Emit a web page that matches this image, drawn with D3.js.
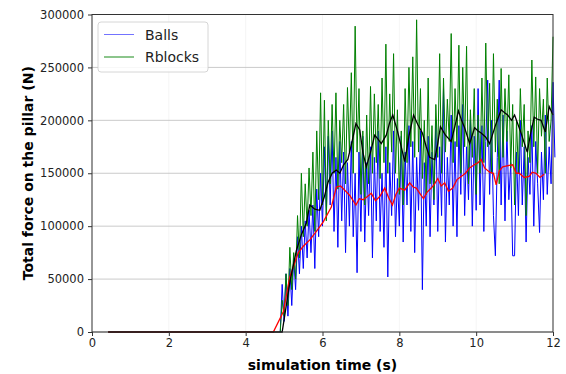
<!DOCTYPE html>
<html>
<head>
<meta charset="utf-8">
<script src="https://cdn.jsdelivr.net/npm/d3@7"></script>
<style>
  body { margin: 0; background: #fff; }
  text { font-family: "DejaVu Sans", sans-serif; }
</style>
</head>
<body>
<script>
// raw signals, sampled every 0.05 s starting at 4.9 s (values in kN)
var rawStart = 4.9, rawStep = 0.05;
var balls = [0, 45, 10, 55, 15, 60, 25, 70, 40, 90, 55, 100, 60, 105, 70, 115, 75, 120, 60, 135,
  90, 150, 100, 175, 110, 185, 120, 190, 95, 165, 80, 180, 105, 170, 75, 160, 100, 180, 90, 150,
  56, 170, 95, 185, 85, 160, 110, 175, 70, 165, 105, 190, 95, 150, 80, 175, 52, 160, 110, 190,
  90, 145, 100, 185, 85, 170, 120, 195, 95, 180, 75, 165, 115, 190, 40, 160, 100, 185, 90, 170,
  120, 200, 95, 175, 110, 230, 85, 165, 120, 205, 100, 180, 90, 195, 130, 215, 110, 175, 125, 200,
  100, 185, 115, 230, 120, 195, 95, 180, 238, 130, 200, 110, 72, 165, 238, 120, 205, 105, 190, 125,
  160, 72, 72, 170, 110, 200, 120, 175, 85, 165, 130, 195, 100, 180, 140, 94, 170, 125, 205, 130,
  175, 140, 236, 165];
var rblocks = [0, 30, 15, 55, 25, 80, 40, 75, 50, 110, 70, 150, 90, 140, 100, 155, 110, 170, 95, 190,
  125, 226, 120, 219, 105, 200, 140, 215, 150, 226, 135, 200, 160, 215, 140, 231, 170, 245, 150, 289,
  170, 230, 130, 190, 120, 205, 140, 232, 150, 225, 160, 215, 145, 240, 160, 272, 150, 225, 170, 263,
  150, 210, 130, 190, 120, 230, 160, 250, 175, 260, 165, 295, 170, 230, 145, 200, 130, 240, 140, 195,
  125, 215, 165, 263, 150, 240, 170, 220, 180, 282, 160, 230, 175, 271, 150, 250, 175, 270, 140, 210,
  165, 230, 130, 205, 150, 240, 160, 273, 175, 235, 150, 263, 170, 220, 140, 249, 165, 230, 180, 243,
  155, 215, 120, 200, 150, 230, 175, 215, 110, 190, 160, 257, 175, 241, 150, 230, 185, 220, 150, 240,
  180, 200, 279];

// smoothed curves: [time, kN]
var ballsAvg = [[0.42, 0], [4.72, 0], [4.98, 19], [5.15, 52], [5.37, 75], [5.5, 81], [5.67, 87],
  [5.84, 95], [6.02, 104], [6.23, 118], [6.36, 137], [6.47, 138], [6.58, 134], [6.71, 129], [6.87, 120],
  [6.96, 126], [7.06, 125], [7.17, 128], [7.27, 131], [7.38, 124], [7.49, 128], [7.62, 136], [7.72, 127],
  [7.82, 120], [7.91, 130], [8.0, 136], [8.14, 134], [8.27, 141], [8.36, 137], [8.44, 136], [8.55, 130],
  [8.63, 126], [8.72, 132], [8.83, 136], [8.92, 140], [9.0, 145], [9.09, 138], [9.18, 141], [9.28, 133],
  [9.39, 136], [9.5, 144], [9.61, 147], [9.72, 150], [9.83, 155], [9.95, 158], [10.05, 160], [10.13, 163],
  [10.22, 155], [10.35, 151], [10.45, 150], [10.52, 139], [10.6, 152], [10.69, 156], [10.8, 157],
  [10.95, 158], [11.04, 150], [11.12, 150], [11.25, 146], [11.38, 147], [11.46, 151], [11.56, 150],
  [11.66, 146], [11.77, 149]];
var rblocksAvg = [[0.42, 0], [4.95, 0], [5.16, 49], [5.32, 77], [5.45, 92], [5.58, 103], [5.67, 120],
  [5.8, 116], [5.93, 115], [6.05, 128], [6.14, 141], [6.25, 150], [6.36, 153], [6.45, 150], [6.55, 158],
  [6.66, 163], [6.77, 180], [6.87, 197], [6.97, 191], [7.05, 170], [7.14, 156], [7.25, 170], [7.36, 186],
  [7.45, 182], [7.53, 178], [7.66, 186], [7.75, 198], [7.83, 205], [7.95, 190], [8.05, 175], [8.14, 161],
  [8.25, 185], [8.37, 205], [8.48, 196], [8.6, 188], [8.7, 175], [8.79, 165], [8.92, 163], [9.0, 178],
  [9.07, 194], [9.2, 186], [9.35, 180], [9.45, 195], [9.54, 209], [9.62, 200], [9.7, 193], [9.83, 178],
  [9.96, 193], [10.05, 190], [10.13, 188], [10.25, 184], [10.35, 178], [10.5, 195], [10.65, 210],
  [10.75, 207], [10.82, 205], [10.92, 200], [11.0, 205], [11.15, 190], [11.33, 170], [11.42, 188],
  [11.51, 203], [11.6, 201], [11.69, 200], [11.8, 189], [11.9, 213], [12.0, 205]];

var xTicks = [0, 2, 4, 6, 8, 10, 12];
var yTicks = [0, 50000, 100000, 150000, 200000, 250000, 300000];

var margin = {top: 14.5, right: 13, bottom: 42, left: 92},
    width = 566 - margin.left - margin.right,
    height = 374 - margin.top - margin.bottom;

var svg = d3.select("body").append("svg")
    .attr("width", 566)
    .attr("height", 374);
var g = svg.append("g")
    .attr("transform", "translate(" + margin.left + "," + margin.top + ")");

var x = d3.scaleLinear().domain([0, 12]).range([0, width]);
var y = d3.scaleLinear().domain([0, 300000]).range([height, 0]);

// grid
g.selectAll(".vgrid").data(xTicks).enter().append("line")
    .attr("x1", function (d) { return x(d); }).attr("x2", function (d) { return x(d); })
    .attr("y1", 0).attr("y2", height)
    .style("stroke", "#f2f2f2").style("stroke-width", 0.8);
g.selectAll(".hgrid").data(yTicks).enter().append("line")
    .attr("x1", 0).attr("x2", width)
    .attr("y1", function (d) { return y(d); }).attr("y2", function (d) { return y(d); })
    .style("stroke", "#bdbdbd").style("stroke-width", 0.8);

// turn a raw array into points
function rawPoints(arr) {
    return arr.map(function (v, i) { return [rawStart + i * rawStep, v * 1000]; });
}
function avgPoints(arr) {
    return arr.map(function (d) { return [d[0], d[1] * 1000]; });
}

var line = d3.line()
    .x(function (d) { return x(d[0]); })
    .y(function (d) { return y(d[1]); });

var plot = g.append("g");
plot.append("path").datum(rawPoints(balls)).attr("d", line)
    .style("fill", "none").style("stroke", "#0000ff").style("stroke-width", 1);
plot.append("path").datum(rawPoints(rblocks)).attr("d", line)
    .style("fill", "none").style("stroke", "#008000").style("stroke-width", 1);
plot.append("path").datum(avgPoints(ballsAvg)).attr("d", line)
    .style("fill", "none").style("stroke", "#ff0000").style("stroke-width", 1.3);
plot.append("path").datum(avgPoints(rblocksAvg)).attr("d", line)
    .style("fill", "none").style("stroke", "#000000").style("stroke-width", 1.3);

// frame
g.append("rect")
    .attr("width", width).attr("height", height)
    .style("fill", "none").style("stroke", "#333").style("stroke-width", 1);

// axes
var xAxis = g.append("g")
    .attr("transform", "translate(0," + height + ")")
    .call(d3.axisBottom(x).tickValues(xTicks).tickSize(4).tickPadding(3).tickFormat(d3.format("d")));
var yAxis = g.append("g")
    .call(d3.axisLeft(y).tickValues(yTicks).tickSize(4).tickPadding(4).tickFormat(d3.format("d")));
[xAxis, yAxis].forEach(function (a) {
    a.select(".domain").remove();
    a.selectAll("line").style("stroke", "#333");
    a.selectAll("text").style("font-size", "11.5px").style("fill", "#222")
        .style("font-family", "DejaVu Sans, sans-serif");
});

// axis titles
svg.append("text")
    .attr("x", margin.left + width / 2).attr("y", 370)
    .attr("text-anchor", "middle")
    .style("font-size", "14px").style("font-weight", "bold")
    .text("simulation time (s)");
svg.append("text")
    .attr("transform", "translate(33," + (margin.top + height / 2) + ") rotate(-90)")
    .attr("text-anchor", "middle")
    .style("font-size", "14px").style("font-weight", "bold")
    .text("Total force on the pillar (N)");

// legend
var legend = g.append("g").attr("transform", "translate(6,7.5)");
legend.append("rect")
    .attr("width", 110).attr("height", 50).attr("rx", 3)
    .style("fill", "#fff").style("fill-opacity", 0.85)
    .style("stroke", "#ccc").style("stroke-width", 0.8);
var legendItems = [{name: "Balls", color: "#0000ff", op: 0.55}, {name: "Rblocks", color: "#008000", op: 0.9}];
legendItems.forEach(function (d, i) {
    var ly = 12.5 + i * 22.5;
    legend.append("line")
        .attr("x1", 6).attr("x2", 36).attr("y1", ly).attr("y2", ly)
        .style("stroke", d.color).style("stroke-opacity", d.op).style("stroke-width", 1);
    legend.append("text")
        .attr("x", 47).attr("y", ly + 5)
        .style("font-size", "14px").style("fill", "#222")
        .text(d.name);
});
</script>
</body>
</html>
